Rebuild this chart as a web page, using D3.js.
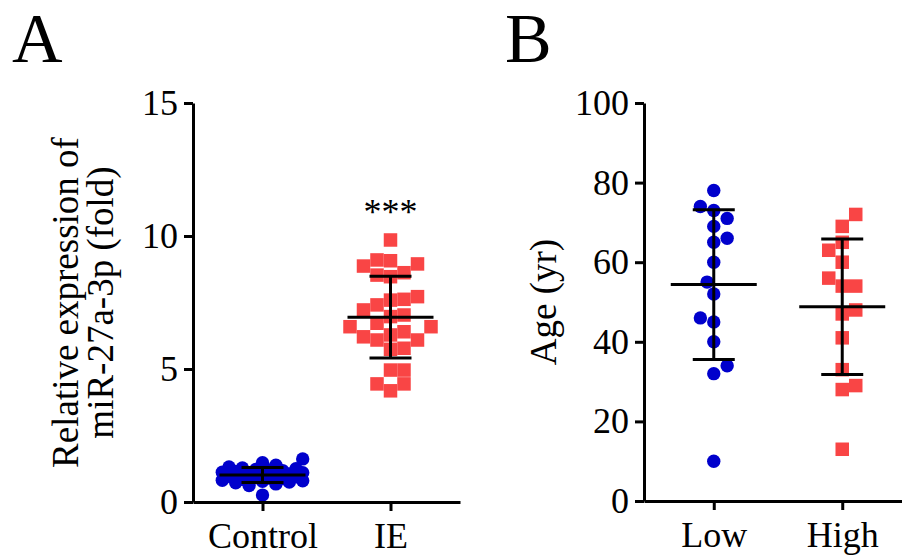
<!DOCTYPE html>
<html lang="en">
<head>
<meta charset="UTF-8">
<title>miR-27a-3p expression and age</title>
<script src="https://d3js.org/d3.v7.min.js"></script>
<style>
  body { margin: 0; background: #fff; }
  svg { display: block; font-family: "Liberation Serif", "Times New Roman", serif; }
</style>
</head>
<body>
<div id="container"></div>
<script>
// Panel A - relative expression of miR-27a-3p (fold)
const groupsA = ['Control', 'IE'];
const controlVals = [0.26, 0.62, 0.68, 0.72, 0.75, 0.78, 0.80, 0.82, 0.85, 0.88,
                     0.90, 0.92, 0.95, 0.97, 1.00, 1.02, 1.05, 1.08, 1.10, 1.12,
                     1.15, 1.18, 1.20, 1.22, 1.25, 1.28, 1.32, 1.38, 1.48, 1.62];
const ieVals = [9.85, 9.07, 9.10, 8.87, 8.95, 8.62, 8.47, 8.53, 7.59, 7.41,
                7.72, 7.62, 7.22, 6.59, 6.21, 6.40, 6.72, 6.28, 7.03, 6.59,
                6.09, 6.97, 6.09, 5.78, 5.74, 4.96, 4.96, 4.44, 4.44, 4.18];
const ticksA = [0, 5, 10, 15];

// Panel B - age (yr)
const groupsB = ['Low', 'High'];
const lowAges = [78, 74, 73, 71, 69, 65, 66, 60, 55, 52, 45, 46, 40, 34, 32, 10];
const highAges = [72, 69, 63, 65, 60, 56, 54, 54, 48, 47, 41, 33, 29, 28, 13];
const ticksB = [0, 20, 40, 60, 80, 100];

const blue = '#0000cc';
const red = '#f94545';

const svg = d3.select('#container').append('svg')
    .attr('width', 902)
    .attr('height', 555);

// simple beeswarm: put each point at the nearest free slot beside the centre
function swarm(vals, y, size, maxHalf, square) {
    const order = d3.range(vals.length).sort((a, b) => vals[a] - vals[b]);
    const cands = [0];
    for (let k = 1; k * size / 2 <= maxHalf; k++) {
        cands.push(k * size / 2, -k * size / 2);
    }
    const placed = [];
    const out = new Array(vals.length);
    order.forEach(function(i, n) {
        const py = y(vals[i]);
        let best = 0, bestD = -1;
        for (let c of cands) {
            if (n % 2) c = -c;
            let d = Infinity;
            placed.forEach(function(p) {
                const dx = Math.abs(p.x - c), dy = Math.abs(p.y - py);
                const dd = square ? Math.max(dx, dy) : Math.hypot(dx, dy);
                if (dd < d) d = dd;
            });
            if (d >= size) { best = c; break; }
            if (d > bestD) { bestD = d; best = c; }
        }
        placed.push({x: best, y: py});
        out[i] = best;
    });
    return out;
}

function panel(o) {
    const g = svg.append('g');

    const y = d3.scaleLinear().domain([0, o.max]).range([o.bottom, o.top]);
    const x = d3.scalePoint().domain(o.groups).range([o.left, o.right]).padding(0.543);

    // points
    o.series.forEach(function(vals, si) {
        const cx = x(o.groups[si]);
        const isSq = si === 1;
        const size = isSq ? 13.5 : 13.4;
        const offs = swarm(vals, y, size, 43, isSq);
        if (isSq) {
            g.selectAll('.sq' + si)
                .data(vals)
                .enter()
                .append('rect')
                .attr('x', (d, i) => cx + offs[i] - size / 2)
                .attr('y', d => y(d) - size / 2)
                .attr('width', size)
                .attr('height', size)
                .attr('fill', red);
        } else {
            g.selectAll('.dot' + si)
                .data(vals)
                .enter()
                .append('circle')
                .attr('cx', (d, i) => cx + offs[i])
                .attr('cy', d => y(d))
                .attr('r', size / 2)
                .attr('fill', blue);
        }
    });

    // mean +/- SD
    o.series.forEach(function(vals, si) {
        const cx = x(o.groups[si]);
        const m = d3.mean(vals), sd = d3.deviation(vals);
        const lines = [
            [cx - 43, m, cx + 43, m],
            [cx, m - sd, cx, m + sd],
            [cx - 21, m + sd, cx + 21, m + sd],
            [cx - 21, m - sd, cx + 21, m - sd]
        ];
        g.selectAll('.bar' + si)
            .data(lines)
            .enter()
            .append('line')
            .attr('x1', d => d[0])
            .attr('y1', d => y(d[1]))
            .attr('x2', d => d[2])
            .attr('y2', d => y(d[3]))
            .attr('stroke', '#000')
            .attr('stroke-width', 3);
    });

    // axes
    const yAxis = g.append('g')
        .attr('transform', 'translate(' + o.left + ',0)')
        .call(d3.axisLeft(y).tickValues(o.ticks).tickSize(9).tickSizeOuter(0).tickPadding(6));
    const xAxis = g.append('g')
        .attr('transform', 'translate(0,' + o.bottom + ')')
        .call(d3.axisBottom(x).tickSize(9).tickSizeOuter(0).tickPadding(11));
    [yAxis, xAxis].forEach(function(a) {
        a.attr('font-family', null).attr('font-size', 36);
        a.selectAll('path, line').attr('stroke', '#000').attr('stroke-width', 3);
        a.selectAll('text').attr('fill', '#000');
    });

    // axis title
    const t = g.append('text')
        .attr('transform', 'translate(' + o.titleX + ',' + (o.top + o.bottom) / 2 + ') rotate(-90)')
        .attr('text-anchor', 'middle')
        .attr('font-size', 37);
    o.title.forEach(function(line, i) {
        t.append('tspan').attr('x', 0).attr('y', i * 35).text(line);
    });

    // panel letter
    g.append('text')
        .attr('x', o.letterX)
        .attr('y', 62)
        .attr('font-size', 70)
        .text(o.letter);

    return {x: x, y: y, g: g};
}

const pA = panel({
    left: 193, right: 460, top: 103, bottom: 502, max: 15,
    groups: groupsA, series: [controlVals, ieVals], ticks: ticksA,
    title: ['Relative expression of', 'miR-27a-3p (fold)'], titleX: 78,
    letter: 'A', letterX: 12
});

// significance mark above IE
pA.g.append('text')
    .attr('x', pA.x('IE'))
    .attr('y', pA.y(d3.max(ieVals)) - 16)
    .attr('text-anchor', 'middle')
    .attr('font-size', 36)
    .text('***');

panel({
    left: 644, right: 912, top: 103, bottom: 501, max: 100,
    groups: groupsB, series: [lowAges, highAges], ticks: ticksB,
    title: ['Age (yr)'], titleX: 556,
    letter: 'B', letterX: 505
});
</script>
</body>
</html>
